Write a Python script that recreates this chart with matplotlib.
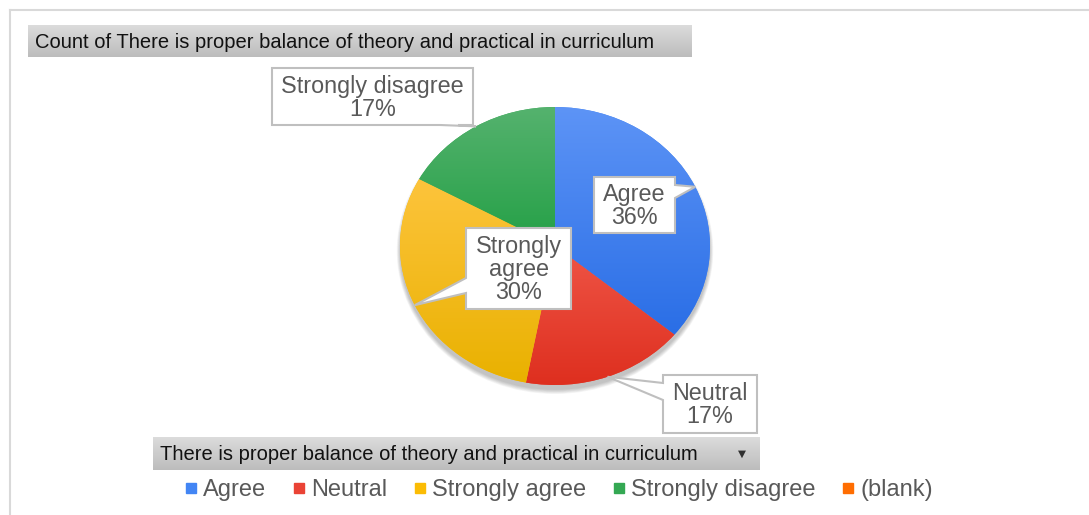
import numpy as np
import matplotlib
matplotlib.use('Agg')
import matplotlib.pyplot as plt
from matplotlib.patches import Polygon, Ellipse
from matplotlib.lines import Line2D
from matplotlib.colors import LinearSegmentedColormap

# data
categories = ['Agree', 'Neutral', 'Strongly agree', 'Strongly disagree']
shares = [36, 17, 30, 17]
legend_labels = ['Agree', 'Neutral', 'Strongly agree', 'Strongly disagree', '(blank)']
colors_top = ['#5d94f6', '#ef5546', '#fdc43c', '#55b26e']
colors_bottom = ['#2a6ee6', '#de2f1f', '#e9b100', '#24a046']
legend_colors = ['#4285f4', '#ea4335', '#fbbc04', '#34a853', '#ff6d01']
title = 'Count of There is proper balance of theory and practical in curriculum'
field_name = 'There is proper balance of theory and practical in curriculum'

W, H = 1089, 515
TEXT_GRAY = '#595959'
BOX_EDGE = '#bfbfbf'

plt.rcParams['font.family'] = ['Liberation Sans', 'DejaVu Sans']

fig = plt.figure(figsize=(W / 100, H / 100), dpi=100)

# pie, slightly squashed like the screenshot
cx, cy, rx, ry = 555, 246, 155, 139
pax = fig.add_axes([(cx - rx) / W, (H - cy - ry) / H, 2 * rx / W, 2 * ry / H])
# soft drop shadow under the pie (mostly visible along the bottom)
for i in range(7):
    pax.add_patch(Ellipse((0.0, -0.035), 2.0 + 0.007 * i, 2.0 + 0.01 * i, facecolor='black',
                          alpha=0.035, lw=0, zorder=0, clip_on=False))
wedges, _ = pax.pie(shares, colors=legend_colors[:4], startangle=90, counterclock=False,
                    wedgeprops=dict(linewidth=0))
grad = np.linspace(0, 1, 256).reshape(-1, 1)
for w, ct, cb in zip(wedges, colors_top, colors_bottom):
    b = w.get_path().get_extents()
    cmap = LinearSegmentedColormap.from_list('g', [cb, ct])
    im = pax.imshow(grad, cmap=cmap, extent=(b.x0, b.x1, b.y0, b.y1), origin='lower',
                    aspect='auto', zorder=2)
    im.set_clip_path(w)
pax.set_aspect('auto')
pax.set_xlim(-1, 1)
pax.set_ylim(-1, 1)
pax.axis('off')

# overlay in pixel coordinates (y down)
bg = fig.add_axes([0, 0, 1, 1])
bg.set_xlim(0, W)
bg.set_ylim(H, 0)
bg.axis('off')

# outer frame
bg.plot([10, W], [10, 10], color='#d9d9d9', lw=1.5)
bg.plot([10, 10], [10, H], color='#d9d9d9', lw=1.5)


def gray_band(x0, x1, y0, y1):
    cmap = LinearSegmentedColormap.from_list('band', ['#dcdcdc', '#bcbcbc'])
    bg.imshow(grad, cmap=cmap, extent=(x0, x1, y1, y0), origin='upper', aspect='auto', zorder=1)
    bg.set_xlim(0, W)
    bg.set_ylim(H, 0)


def fit_text(x, y, s, width_px, size=14):
    # the screenshot uses a narrow font, so size the text to the same width
    t = bg.text(x, y, s, fontsize=size, color='#111111', va='center', ha='left', zorder=3)
    r = fig.canvas.get_renderer()
    w = t.get_window_extent(renderer=r).width
    t.set_fontsize(size * width_px / w)
    return t


gray_band(28, 692, 25, 57)
fit_text(35, 42, title, 622)
gray_band(153, 760, 437, 470)
fit_text(160, 455, field_name, 540)
bg.text(742, 454, '\u25bc', fontsize=7.5, color='#303030', va='center', ha='center',
        family='DejaVu Sans', zorder=3)


def edge_point(angle):
    a = np.deg2rad(angle)
    return cx + rx * np.cos(a), cy - ry * np.sin(a)


# mid-angle of every slice (clockwise from 12 o'clock)
bounds = np.cumsum([0] + shares) / sum(shares) * 360
mids = [90 - (bounds[i] + bounds[i + 1]) / 2 for i in range(len(shares))]


def callout(box, side, base, tip, text):
    x0, x1, y0, y1 = box
    b1, b2 = base
    if side == 'left':
        pts = [(x0, y0), (x1, y0), (x1, y1), (x0, y1), (x0, b2), tip, (x0, b1)]
    elif side == 'right':
        pts = [(x0, y0), (x1, y0), (x1, b1), tip, (x1, b2), (x1, y1), (x0, y1)]
    else:
        pts = [(x0, y0), (x1, y0), (x1, y1), (b2, y1), tip, (b1, y1), (x0, y1)]
    bg.add_patch(Polygon(pts, closed=True, facecolor='white', edgecolor=BOX_EDGE, lw=1.5, zorder=5))
    bg.text((x0 + x1) / 2, (y0 + y1) / 2 + 1, text, ha='center', va='center', fontsize=16.8,
            color=TEXT_GRAY, linespacing=1.0, zorder=6)


pct = [f'{round(s / sum(shares) * 100)}%' for s in shares]
callout((594, 675, 177, 233), 'right', (185, 198), edge_point(mids[0]), f'{categories[0]}\n{pct[0]}')
callout((663, 757, 375, 433), 'left', (383, 400), edge_point(mids[1]), f'{categories[1]}\n{pct[1]}')
callout((466, 571, 228, 309), 'left', (278, 293), edge_point(mids[2]), 'Strongly\nagree\n' + pct[2])
callout((272, 473, 68, 125), 'bottom', (440, 458), edge_point(mids[3]), f'{categories[3]}\n{pct[3]}')

handles = [Line2D([], [], marker='s', linestyle='none', markersize=7, color=c) for c in legend_colors]
bg.legend(handles, legend_labels, ncol=5, loc='center', bbox_to_anchor=(559, 490),
          bbox_transform=bg.transData, frameon=False, fontsize=17, labelcolor=TEXT_GRAY,
          handlelength=0.5, handletextpad=0.25, columnspacing=1.15, borderpad=0)

fig.savefig('out.png', dpi=100)
